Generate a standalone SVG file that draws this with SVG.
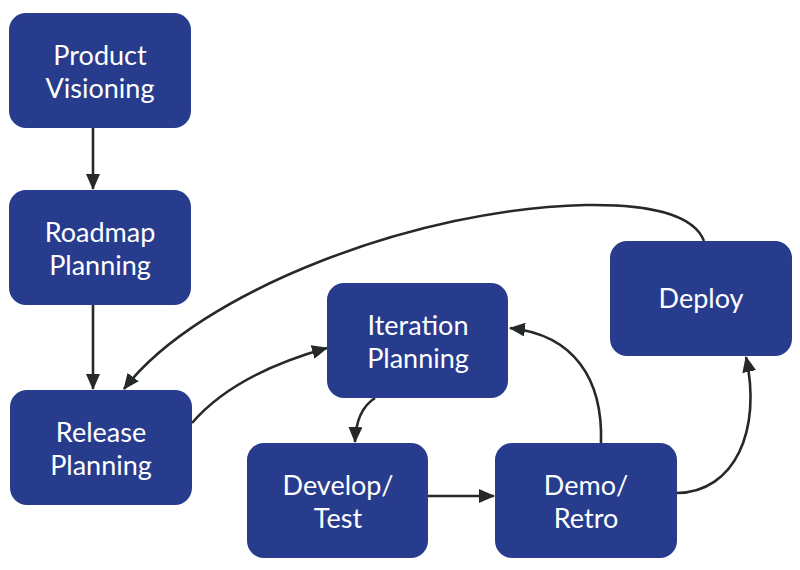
<svg xmlns="http://www.w3.org/2000/svg" width="800" height="570" viewBox="0 0 800 570">
  <style>
    .box { fill: #283c8e; }
    .lbl { fill: #ffffff; font-family: Lato, "Open Sans", "Noto Sans", sans-serif; font-size: 27px; text-anchor: middle; }
    .edge { fill: none; stroke: #252a28; stroke-width: 2.6; }
  </style>
  <defs>
    <marker id="arrow" markerUnits="userSpaceOnUse" markerWidth="16" markerHeight="14" viewBox="0 0 16 14" refX="15" refY="7" orient="auto">
      <path d="M0,0 L16,7 L0,14 Z" fill="#252a28"/>
    </marker>
  </defs>
  <rect width="800" height="570" fill="#ffffff"/>

  <g id="connectors">
    <path class="edge" d="M93,128 L93,189" marker-end="url(#arrow)"/>
    <path class="edge" d="M93,305 L93,389" marker-end="url(#arrow)"/>
    <path class="edge" d="M704,241 C694,215 650,204 586,205 C420,208 200,290 124,389" marker-end="url(#arrow)"/>
    <path class="edge" d="M192,423 Q234,374 327,348" marker-end="url(#arrow)"/>
    <path class="edge" d="M375,398 Q356,410 355,442" marker-end="url(#arrow)"/>
    <path class="edge" d="M428,496 L494,496" marker-end="url(#arrow)"/>
    <path class="edge" d="M601,443 C603,380 575,335 510,328" marker-end="url(#arrow)"/>
    <path class="edge" d="M677,493 C735,492 762,430 746,357" marker-end="url(#arrow)"/>
  </g>

  <g id="product-visioning">
    <rect class="box" x="9" y="13" width="182" height="115" rx="17"/>
    <text class="lbl" x="100" y="65">Product</text>
    <text class="lbl" x="100" y="98">Visioning</text>
  </g>
  <g id="roadmap-planning">
    <rect class="box" x="9" y="190" width="182" height="115" rx="17"/>
    <text class="lbl" x="100" y="242">Roadmap</text>
    <text class="lbl" x="100" y="275">Planning</text>
  </g>
  <g id="release-planning">
    <rect class="box" x="10" y="390" width="182" height="115" rx="17"/>
    <text class="lbl" x="101" y="442">Release</text>
    <text class="lbl" x="101" y="475">Planning</text>
  </g>
  <g id="iteration-planning">
    <rect class="box" x="327" y="283" width="181" height="115" rx="17"/>
    <text class="lbl" x="418" y="335">Iteration</text>
    <text class="lbl" x="418" y="368">Planning</text>
  </g>
  <g id="develop-test">
    <rect class="box" x="247" y="443" width="181" height="115" rx="17"/>
    <text class="lbl" x="338" y="495">Develop/</text>
    <text class="lbl" x="338" y="528">Test</text>
  </g>
  <g id="demo-retro">
    <rect class="box" x="495" y="443" width="182" height="115" rx="17"/>
    <text class="lbl" x="586" y="495">Demo/</text>
    <text class="lbl" x="586" y="528">Retro</text>
  </g>
  <g id="deploy">
    <rect class="box" x="610" y="241" width="182" height="115" rx="17"/>
    <text class="lbl" x="701" y="308">Deploy</text>
  </g>
</svg>
